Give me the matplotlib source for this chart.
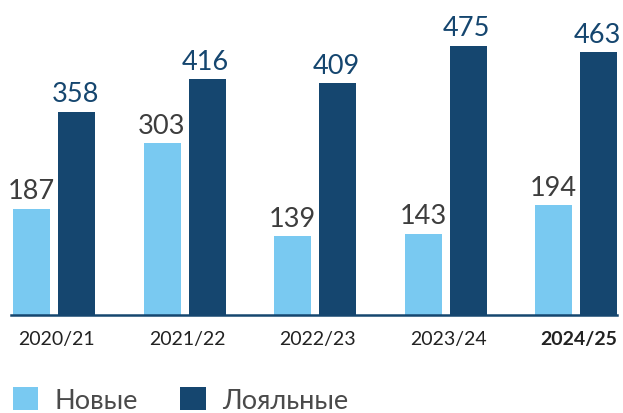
import matplotlib
matplotlib.use("Agg")
import matplotlib.pyplot as plt
from matplotlib.patches import Patch
import numpy as np

seasons = ["2020/21", "2021/22", "2022/23", "2023/24", "2024/25"]
new_vals = [187, 303, 139, 143, 194]
loyal_vals = [358, 416, 409, 475, 463]
legend_labels = ["Новые", "Лояльные"]

LIGHT = "#79C9F1"
DARK = "#15466F"
GRAY_TXT = "#3d3d3d"

plt.rcParams['font.family'] = ['Lato', 'DejaVu Sans']

W, H = 623, 414
fig = plt.figure(figsize=(W/100, H/100), dpi=100)
# axes: x from 11 to 617 px, baseline at y=316 px, top at y=0
ax = fig.add_axes([11/W, (H-316)/H, (617-11)/W, 316/H])

x = np.arange(len(seasons))
bw = 0.2835
off = 0.1724
ax.bar(x - off, new_vals, width=bw, color=LIGHT, zorder=2)
ax.bar(x + off, loyal_vals, width=bw, color=DARK, zorder=2)

ax.set_xlim(-0.3295, 4.314)
ax.set_ylim(0, 557)

for xi, v in zip(x, new_vals):
    ax.annotate(str(v), (xi - off, v), xytext=(0, 7.5), textcoords="offset points",
                ha="center", va="baseline", fontsize=19.5, color=GRAY_TXT)
for xi, v in zip(x, loyal_vals):
    ax.annotate(str(v), (xi + off, v), xytext=(-1, 7.5), textcoords="offset points",
                ha="center", va="baseline", fontsize=19.5, color=DARK)

for s in ["top", "right", "left"]:
    ax.spines[s].set_visible(False)
ax.spines["bottom"].set_color(DARK)
ax.spines["bottom"].set_linewidth(1.8)
ax.spines["bottom"].set_zorder(3)
ax.set_yticks([])
ax.set_xticks(x + 0.02)
ax.set_xticklabels(seasons, fontsize=14, color="#222222")
ax.tick_params(axis="x", length=0, pad=10.5)
ax.get_xticklabels()[-1].set_fontweight("bold")

handles = [Patch(facecolor=LIGHT, edgecolor="none"), Patch(facecolor=DARK, edgecolor="none")]
leg = fig.legend(handles, legend_labels, loc="lower left",
                 bbox_to_anchor=(13/W, 0/H), ncol=2, frameon=False,
                 fontsize=19.5, handlelength=0.93, handleheight=0.93,
                 handletextpad=0.62, columnspacing=1.55, borderpad=0.0,
                 borderaxespad=0.0, labelcolor="#4a4a4a")

fig.savefig("out.png", dpi=100)
